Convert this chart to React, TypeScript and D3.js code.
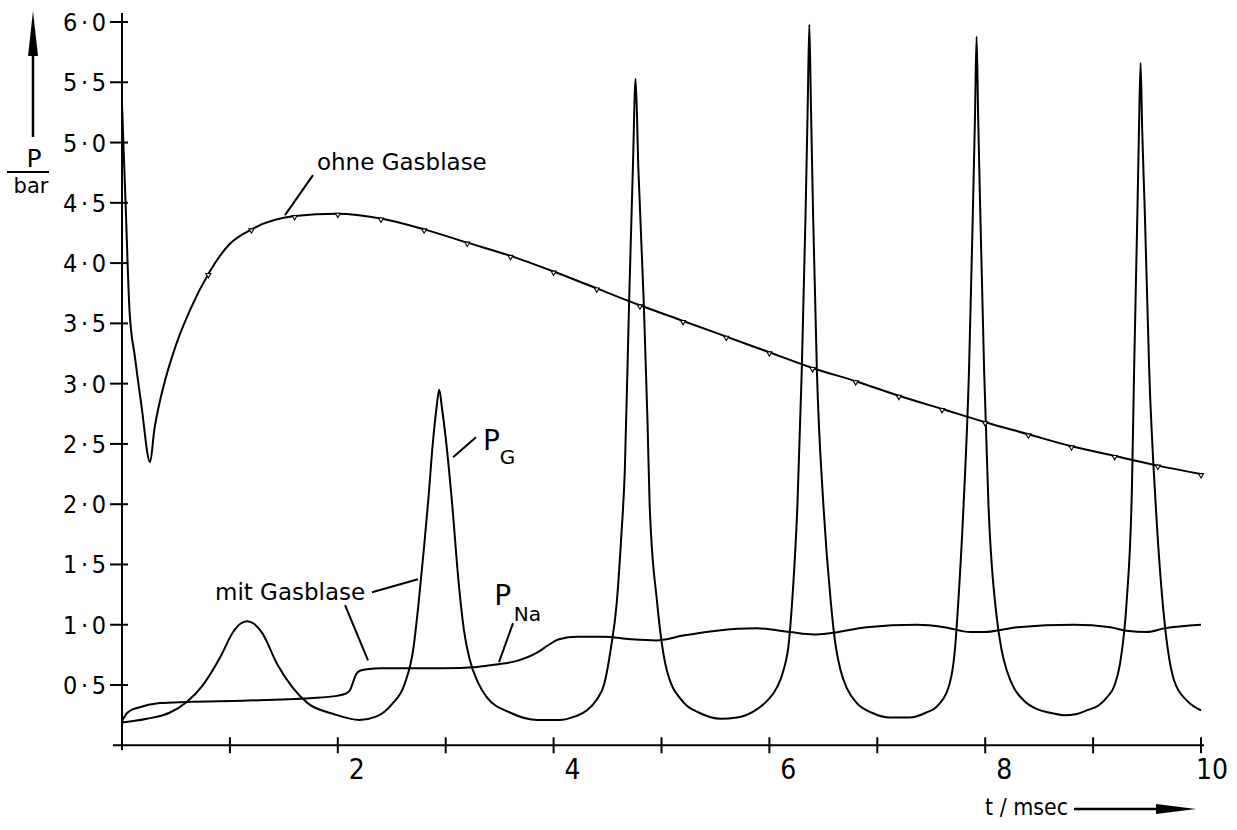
import * as d3 from 'd3';

const WIDTH = 1237;
const HEIGHT = 830;
const FONT = "'DejaVu Sans', 'Liberation Sans', sans-serif";
const NUM_FONT = "'DejaVu Sans Condensed', 'DejaVu Sans', sans-serif";

// axis ticks
const yTicks = [0.5, 1, 1.5, 2, 2.5, 3, 3.5, 4, 4.5, 5, 5.5, 6];
const yTickLabels = ['0·5', '1·0', '1·5', '2·0', '2·5', '3·0', '3·5', '4·0', '4·5', '5·0', '5·5', '6·0'];
const xTicks = [1, 2, 3, 4, 5, 6, 7, 8, 9, 10];
const xTickLabels = ['', '2', '', '4', '', '6', '', '8', '', '10'];

// "ohne Gasblase" curve (t in msec, P in bar)
const ohneT = [0, 0.035, 0.07, 0.12, 0.18, 0.26, 0.3, 0.35, 0.4, 0.5, 0.63, 0.8, 1.0, 1.2, 1.6, 2.0, 2.4, 2.8, 3.2, 3.6, 4.0, 4.4, 4.8, 5.2, 5.6, 6.0, 6.4, 6.8, 7.2, 7.6, 8.0, 8.4, 8.8, 9.2, 9.6, 10.0];
const ohneP = [5.32, 4.45, 3.6, 3.22, 2.82, 2.35, 2.62, 2.85, 3.03, 3.32, 3.61, 3.91, 4.16, 4.28, 4.39, 4.41, 4.37, 4.28, 4.17, 4.06, 3.93, 3.79, 3.65, 3.52, 3.39, 3.26, 3.13, 3.02, 2.9, 2.79, 2.68, 2.58, 2.48, 2.4, 2.32, 2.25];

// P_G "mit Gasblase"
const gasT = [
  0, 0.23, 0.44, 0.6, 0.75, 0.91, 1.03, 1.1, 1.16, 1.22, 1.3, 1.44, 1.58, 1.72, 1.96, 2.2,
  2.36, 2.5, 2.62, 2.7, 2.75, 2.8, 2.84, 2.88, 2.915, 2.94, 2.965, 3.0, 3.06, 3.12, 3.17, 3.22, 3.3, 3.38, 3.6, 3.85,
  4.05, 4.2, 4.31, 4.4, 4.47, 4.53, 4.585, 4.625, 4.66, 4.7, 4.735, 4.76, 4.785, 4.835, 4.87, 4.89, 4.96, 5.05, 5.2, 5.35, 5.55,
  5.7, 5.85, 5.98, 6.07, 6.13, 6.18, 6.21, 6.26, 6.3, 6.335, 6.355, 6.37, 6.385, 6.405, 6.44, 6.5, 6.57, 6.61, 6.66, 6.72, 6.81, 6.95, 7.12,
  7.3, 7.45, 7.55, 7.67, 7.72, 7.75, 7.8, 7.85, 7.885, 7.905, 7.92, 7.935, 7.955, 7.99, 8.03, 8.11, 8.15, 8.2, 8.27, 8.36, 8.48, 8.6, 8.73,
  8.85, 8.94, 9.05, 9.13, 9.2, 9.25, 9.31, 9.36, 9.38, 9.41, 9.425, 9.44, 9.455, 9.48, 9.52, 9.58, 9.66, 9.7, 9.75, 9.87, 10.0,
];
const gasP = [
  0.19, 0.22, 0.27, 0.36, 0.5, 0.73, 0.94, 1.01, 1.03, 1.01, 0.93, 0.67, 0.48, 0.35, 0.26, 0.21,
  0.24, 0.34, 0.51, 0.8, 1.19, 1.65, 2.05, 2.5, 2.8, 2.95, 2.8, 2.55, 2.0, 1.35, 0.95, 0.72, 0.52, 0.4, 0.27, 0.21,
  0.21, 0.24, 0.29, 0.38, 0.51, 0.8, 1.18, 1.7, 2.28, 3.69, 4.8, 5.53, 4.8, 3.69, 2.7, 2.0, 1.18, 0.62, 0.36, 0.27, 0.22,
  0.23, 0.28, 0.37, 0.48, 0.62, 0.85, 1.18, 2.0, 3.11, 4.4, 5.3, 5.98, 5.3, 4.4, 3.11, 2.0, 1.18, 0.85, 0.62, 0.47, 0.35, 0.27, 0.23,
  0.23, 0.27, 0.32, 0.51, 0.8, 1.18, 2.0, 3.11, 4.4, 5.2, 5.88, 5.2, 4.4, 3.11, 2.0, 1.04, 0.8, 0.62, 0.47, 0.37, 0.3, 0.27, 0.25,
  0.26, 0.29, 0.33, 0.4, 0.5, 0.68, 1.18, 2.14, 3.11, 4.4, 5.1, 5.66, 5.1, 4.4, 3.11, 2.0, 1.04, 0.75, 0.54, 0.37, 0.29,
];

// P_Na
const naT = [0, 0.04, 0.08, 0.14, 0.35, 0.6, 1.12, 1.74, 1.99, 2.08, 2.12, 2.14, 2.17, 2.21, 2.27, 2.4, 2.98, 3.29, 3.47, 3.66, 3.85, 3.95, 4.05, 4.22, 4.46, 4.71, 4.95, 5.2, 5.51, 5.88, 6.19, 6.41, 6.56, 6.9, 7.37, 7.62, 7.86, 7.99, 8.3, 8.82, 9.16, 9.31, 9.5, 9.66, 10.0];
const naP = [0.2, 0.26, 0.29, 0.31, 0.35, 0.36, 0.37, 0.39, 0.41, 0.43, 0.47, 0.52, 0.59, 0.62, 0.63, 0.64, 0.64, 0.65, 0.67, 0.7, 0.77, 0.83, 0.88, 0.9, 0.9, 0.88, 0.87, 0.91, 0.95, 0.97, 0.94, 0.92, 0.93, 0.98, 1.0, 0.98, 0.94, 0.94, 0.98, 1.0, 0.98, 0.95, 0.94, 0.97, 1.0];

const x = d3.scaleLinear().domain([0, 10]).range([122, 1201]);
const y = d3.scaleLinear().domain([0, 6]).range([745.3, 22]);

const line = d3
  .line<[number, number]>()
  .x((d) => x(d[0]))
  .y((d) => y(d[1]))
  .curve(d3.curveMonotoneX);

const zip = (ts: number[], ps: number[]) => ts.map((t, i) => [t, ps[i]] as [number, number]);

const markerPath = d3.symbol().type(d3.symbolTriangle).size(11)();

export default function App() {
  const ohne = zip(ohneT, ohneP);
  // the plotter marked the curve every 0.4 msec
  const markers = ohne.filter(([t]) => t > 0.7 && Math.abs(t / 0.4 - Math.round(t / 0.4)) < 1e-6);

  return (
    <svg
      width={WIDTH}
      height={HEIGHT}
      style={{ position: 'absolute', left: 0, top: 0, background: '#fff' }}
    >
      {/* axes */}
      <g stroke="#000" strokeWidth={2} fill="none">
        <line x1={x(0)} x2={x(0)} y1={13} y2={y(0) + 5} />
        <line x1={x(0) - 9} x2={x(10) + 3} y1={y(0)} y2={y(0)} />
        {yTicks.map((v) => (
          <line key={v} x1={x(0) - 12} x2={x(0) + 6} y1={y(v)} y2={y(v)} />
        ))}
        {xTicks.map((v) => (
          <line key={v} x1={x(v)} x2={x(v)} y1={y(0) - 8} y2={y(0) + 8} />
        ))}
      </g>

      <g fontFamily={NUM_FONT} fill="#000">
        {yTicks.map((v, i) => (
          <text key={v} x={x(0) - 16} y={y(v)} dy="0.36em" fontSize={25} textAnchor="end" textLength={43} lengthAdjust="spacing">
            {yTickLabels[i]}
          </text>
        ))}
        {xTicks.map((v, i) =>
          xTickLabels[i] ? (
            <text key={v} x={x(v) + 27} y={779} fontSize={28} textAnchor="end">
              {xTickLabels[i]}
            </text>
          ) : null
        )}
      </g>

      {/* curves */}
      <g fill="none" stroke="#000" strokeWidth={2} strokeLinejoin="round">
        <path d={line(ohne) ?? ''} />
        <path d={line(zip(gasT, gasP)) ?? ''} />
        <path d={line(zip(naT, naP)) ?? ''} />
      </g>
      <g fill="#fff" stroke="#000" strokeWidth={1.1}>
        {markers.map(([t, p]) => (
          <path key={t} d={markerPath} transform={`translate(${x(t)},${y(p) + 1}) rotate(180)`} />
        ))}
      </g>

      {/* annotations */}
      <g stroke="#000" strokeWidth={2}>
        <line x1={x(1.77)} y1={y(4.73)} x2={x(1.511)} y2={y(4.398)} />
        <line x1={x(2.317)} y1={y(1.27)} x2={x(2.743)} y2={y(1.378)} />
        <line x1={x(2.067)} y1={y(1.162)} x2={x(2.28)} y2={y(0.705)} />
        <line x1={x(3.281)} y1={y(2.556)} x2={x(3.068)} y2={y(2.39)} />
        <line x1={x(3.624)} y1={y(1.013)} x2={x(3.494)} y2={y(0.69)} />
      </g>
      <g fontFamily={FONT} fill="#000">
        <text x={x(1.807)} y={y(4.77)} fontSize={23}>
          ohne Gasblase
        </text>
        <text x={x(0.862)} y={y(1.203)} fontSize={23}>
          mit Gasblase
        </text>
        <text x={x(3.346)} y={y(2.448)} fontSize={28}>P</text>
        <text x={x(3.5)} y={y(2.33)} fontSize={20}>G</text>
        <text x={x(3.45)} y={y(1.16)} fontSize={28}>P</text>
        <text x={x(3.63)} y={y(1.035)} fontSize={20}>Na</text>
      </g>

      {/* y label with arrow */}
      <g>
        <line x1={33} x2={33} y1={137} y2={50} stroke="#000" strokeWidth={2.5} />
        <path d="M33,11 L28,56 L38,56 Z" fill="#000" />
        <text x={34} y={167} fontFamily={FONT} fontSize={25} textAnchor="middle">P</text>
        <line x1={7} x2={49} y1={172} y2={172} stroke="#000" strokeWidth={2} />
        <text x={31} y={193} fontFamily={FONT} fontSize={21} textAnchor="middle">bar</text>
      </g>

      {/* x label with arrow */}
      <g>
        <text x={985} y={815} fontFamily={FONT} fontSize={23} textLength={83} lengthAdjust="spacingAndGlyphs">
          t / msec
        </text>
        <line x1={1074} x2={1160} y1={809} y2={809} stroke="#000" strokeWidth={2.5} />
        <path d="M1196,809 L1156,804 L1156,814 Z" fill="#000" />
      </g>
    </svg>
  );
}
